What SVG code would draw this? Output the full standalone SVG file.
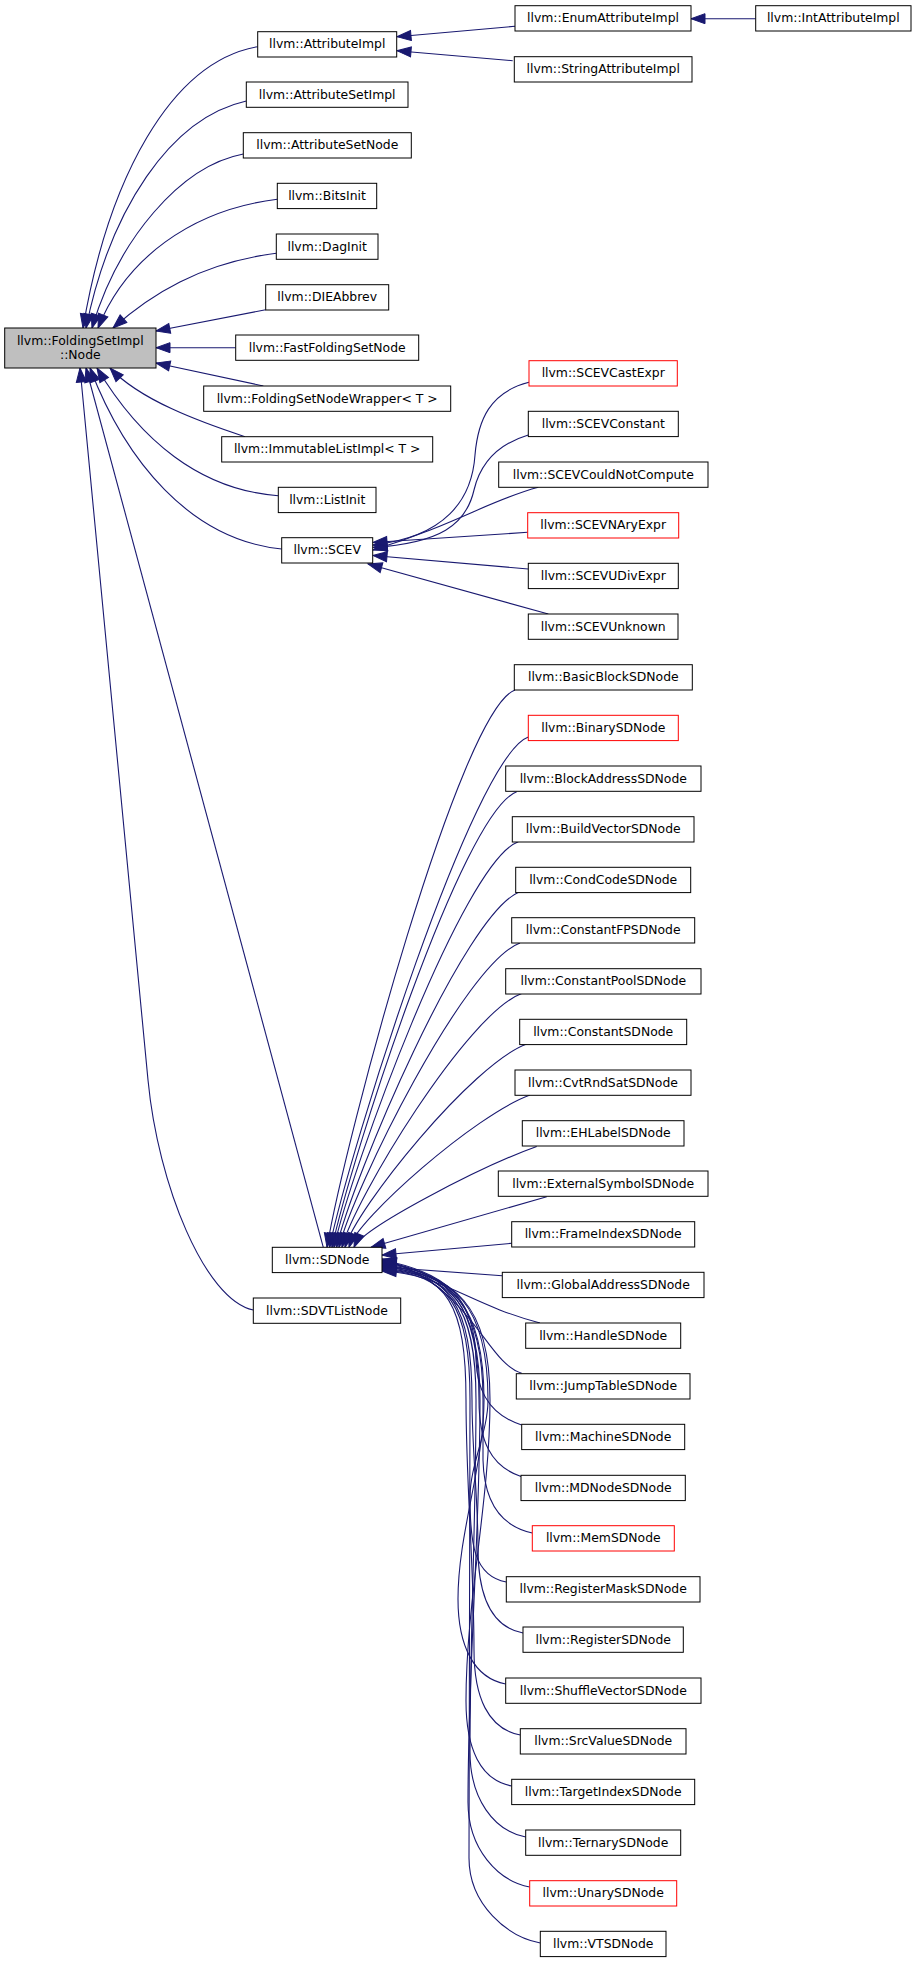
<svg xmlns="http://www.w3.org/2000/svg" width="916" height="1963" viewBox="0 0 916 1963">
<style>
.n rect{fill:#fff;stroke:#000;stroke-width:1}
.r rect{stroke:#f00}
.root rect{fill:#bfbfbf}
text{font-family:"DejaVu Sans","Liberation Sans",sans-serif;font-size:12.4px;fill:#000;text-anchor:middle}
#edges path{fill:none;stroke:#191970;stroke-width:1.1;marker-end:url(#ah)}
</style>
<defs>
<marker id="ah" markerUnits="userSpaceOnUse" markerWidth="14" markerHeight="10" refX="14" refY="5" orient="auto" overflow="visible">
<path d="M0,0 L14,5 L0,10 Z" fill="#191970" stroke="#191970" stroke-width="1"/>
</marker>
</defs>
<rect width="916" height="1963" fill="#fff"/>
<g id="edges">
<path d="M755.7,18.7 L691,18.7"/>
<path d="M515,26.3 L397,36.7"/>
<path d="M512.7,60.7 L397,50.7"/>
<path d="M257.7,46.7 C170,62 108,180 83,328"/>
<path d="M246.3,101 C170,118 110,210 86,328"/>
<path d="M243.3,154 C180,166 118,240 92,328"/>
<path d="M277.3,199.3 C190,210 125,260 98,328"/>
<path d="M276.3,253.3 C200,263 150,295 113,328"/>
<path d="M265.7,309.7 L156,331"/>
<path d="M235.7,347.7 L156,347.7"/>
<path d="M263.3,386 L156,363"/>
<path d="M245,436.7 C200,422 140,400 110,368"/>
<path d="M278.3,495.7 C200,490 140,440 97,368"/>
<path d="M281.7,549 C190,540 125,460 90,368"/>
<path d="M323.3,1247.3 L86,368"/>
<path d="M253.3,1310 C205,1300 158,1185 148,1080 L80,368"/>
<path d="M529,382.3 C490,392 478,420 475,455 C472,500 445,537 373,545"/>
<path d="M528.3,435 C495,445 480,465 474,490 C466,525 440,543 373,547.5"/>
<path d="M538.3,487.3 C490,500 455,525 373,550"/>
<path d="M527.7,532.3 L373,542.5"/>
<path d="M528.3,569 L373,555.5"/>
<path d="M548.3,614 L368,564"/>
<path d="M515,690 C460,710 345,1140 327,1247.3"/>
<path d="M528.3,737 C473,757 349.8,1150 329.5,1247.3"/>
<path d="M516.7,791.7 C462,812 350.7,1160.5 332,1247.3"/>
<path d="M518.3,841.7 C463,862 351,1170 334,1247.3"/>
<path d="M520,891.7 C465,912 352,1179.5 336.5,1247.3"/>
<path d="M520,943 C465,963 353,1189 339,1247.3"/>
<path d="M521.7,993.5 C467,1013.5 354.6,1199 342,1247.3"/>
<path d="M526.7,1044 C472,1064 356,1208.4 345,1247.3"/>
<path d="M530,1095 C475,1115 358.6,1218 349,1247.3"/>
<path d="M536.7,1146.5 C482,1166 362,1228 354,1247.3"/>
<path d="M546.7,1196.7 L371,1247.3"/>
<path d="M511.7,1243.3 L382,1255"/>
<path d="M502.3,1275.7 L382,1267"/>
<path d="M540,1323 C470,1305 440,1273 382,1271"/>
<path d="M521.7,1373.3 C485,1362 472,1285 382,1259"/>
<path d="M521.7,1425 C490,1415 477,1392 476,1360 C475,1300 450,1273 382,1260"/>
<path d="M521,1476.5 C490,1466 479,1440 479,1400 C479,1305 452,1274 382,1261"/>
<path d="M532.3,1533 C500,1526 484,1500 483,1460 L483,1400 C483,1305 452,1274 382,1262"/>
<path d="M506.3,1582 C474,1576 470,1544 470,1497 C470,1464.7 488,1432.3 488,1400 C488,1305 455,1274 382,1263"/>
<path d="M523,1633 C491,1627 478,1595 478,1548 C478,1498.7 472,1449.3 472,1400 C472,1305 450,1274 382,1264"/>
<path d="M505.7,1684 C474,1678 458,1646 458,1599 C458,1532.7 484,1466.3 484,1400 C484,1305 453,1274 382,1265"/>
<path d="M520.3,1735 C488,1729 474,1697 474,1650 C474,1566.7 466,1483.3 466,1400 C466,1305 448,1274 382,1266"/>
<path d="M511.7,1786 C480,1780 466,1748 466,1701 C466,1600.7 490,1500.3 490,1400 C490,1305 456,1274 382,1267"/>
<path d="M525.7,1837 C494,1831 470,1799 470,1752 C470,1634.7 476,1517.3 476,1400 C476,1305 451,1274 382,1268"/>
<path d="M529.7,1887 C498,1881 468,1849 468,1802 C468,1668 480,1534 480,1400 C480,1305 452,1274 382,1269"/>
<path d="M540.3,1943 C508,1937 469,1905 469,1858 C469,1705.3 470,1552.7 470,1400 C470,1305 449,1274 382,1270"/>
</g>
<g id="n_root" class="n root"><rect x="4.7" y="328" width="151.3" height="40"/><text x="80.3" y="345">llvm::FoldingSetImpl</text><text x="80.3" y="359">::Node</text></g>
<g id="n_attrimpl" class="n"><rect x="257.7" y="31.7" width="139" height="25.3"/><text x="327.2" y="48.4">llvm::AttributeImpl</text></g>
<g id="n_enumattr" class="n"><rect x="515" y="5.7" width="176" height="25.3"/><text x="603" y="22.4">llvm::EnumAttributeImpl</text></g>
<g id="n_intattr" class="n"><rect x="755.7" y="5.7" width="155.3" height="25.3"/><text x="833.3" y="22.4">llvm::IntAttributeImpl</text></g>
<g id="n_strattr" class="n"><rect x="514.3" y="56.7" width="177.7" height="25.3"/><text x="603.2" y="73.4">llvm::StringAttributeImpl</text></g>
<g id="n_attrsetimpl" class="n"><rect x="246.3" y="82" width="161.7" height="25.3"/><text x="327.2" y="98.7">llvm::AttributeSetImpl</text></g>
<g id="n_attrsetnode" class="n"><rect x="243.3" y="132.7" width="168" height="25.3"/><text x="327.3" y="149.4">llvm::AttributeSetNode</text></g>
<g id="n_bitsinit" class="n"><rect x="277.3" y="183.3" width="99.4" height="25.3"/><text x="327" y="200">llvm::BitsInit</text></g>
<g id="n_daginit" class="n"><rect x="276.3" y="234" width="101.7" height="25.3"/><text x="327.2" y="250.7">llvm::DagInit</text></g>
<g id="n_dieabbrev" class="n"><rect x="265.7" y="284.7" width="123" height="25.3"/><text x="327.2" y="301.4">llvm::DIEAbbrev</text></g>
<g id="n_fastfsn" class="n"><rect x="235.7" y="335" width="183" height="25.3"/><text x="327.2" y="351.7">llvm::FastFoldingSetNode</text></g>
<g id="n_fsnwrapper" class="n"><rect x="203.7" y="386" width="247" height="25.3"/><text x="327.2" y="402.7">llvm::FoldingSetNodeWrapper&lt; T &gt;</text></g>
<g id="n_immlist" class="n"><rect x="221.7" y="436.7" width="211" height="25.3"/><text x="327.2" y="453.4">llvm::ImmutableListImpl&lt; T &gt;</text></g>
<g id="n_listinit" class="n"><rect x="278.3" y="487.3" width="97.7" height="25.3"/><text x="327.2" y="504">llvm::ListInit</text></g>
<g id="n_scev" class="n"><rect x="281.7" y="537.7" width="91" height="25.3"/><text x="327.2" y="554.4">llvm::SCEV</text></g>
<g id="n_sdnode" class="n"><rect x="272.3" y="1247.3" width="109.7" height="25.3"/><text x="327.2" y="1264">llvm::SDNode</text></g>
<g id="n_sdvtlist" class="n"><rect x="253.3" y="1298" width="147.4" height="25.3"/><text x="327" y="1314.7">llvm::SDVTListNode</text></g>
<g id="n_scevcast" class="n r"><rect x="529" y="360.7" width="148.3" height="25.3"/><text x="603.2" y="377.4">llvm::SCEVCastExpr</text></g>
<g id="n_scevconst" class="n"><rect x="528.3" y="411.3" width="150" height="25.3"/><text x="603.3" y="428">llvm::SCEVConstant</text></g>
<g id="n_scevcnc" class="n"><rect x="498.7" y="462" width="209.3" height="25.3"/><text x="603.3" y="478.7">llvm::SCEVCouldNotCompute</text></g>
<g id="n_scevnary" class="n r"><rect x="527.7" y="512.7" width="151" height="25.3"/><text x="603.2" y="529.4">llvm::SCEVNAryExpr</text></g>
<g id="n_scevudiv" class="n"><rect x="528.3" y="563.3" width="150" height="25.3"/><text x="603.3" y="580">llvm::SCEVUDivExpr</text></g>
<g id="n_scevunk" class="n"><rect x="528.3" y="614" width="149.7" height="25.3"/><text x="603.2" y="630.7">llvm::SCEVUnknown</text></g>
<g id="n_basicblock" class="n"><rect x="514.3" y="664.7" width="178" height="25.3"/><text x="603.3" y="681.4">llvm::BasicBlockSDNode</text></g>
<g id="n_binary" class="n r"><rect x="528.3" y="715.3" width="150" height="25.3"/><text x="603.3" y="732">llvm::BinarySDNode</text></g>
<g id="n_blockaddr" class="n"><rect x="505.7" y="766" width="195.3" height="25.3"/><text x="603.3" y="782.7">llvm::BlockAddressSDNode</text></g>
<g id="n_buildvec" class="n"><rect x="512.3" y="816.7" width="181.7" height="25.3"/><text x="603.2" y="833.4">llvm::BuildVectorSDNode</text></g>
<g id="n_condcode" class="n"><rect x="515.7" y="867.3" width="175" height="25.3"/><text x="603.2" y="884">llvm::CondCodeSDNode</text></g>
<g id="n_constfp" class="n"><rect x="511.7" y="917.7" width="183" height="25.3"/><text x="603.2" y="934.4">llvm::ConstantFPSDNode</text></g>
<g id="n_constpool" class="n"><rect x="505.7" y="968.7" width="195.3" height="25.3"/><text x="603.3" y="985.4">llvm::ConstantPoolSDNode</text></g>
<g id="n_const" class="n"><rect x="519.7" y="1019.3" width="167" height="25.3"/><text x="603.2" y="1036">llvm::ConstantSDNode</text></g>
<g id="n_cvtrnd" class="n"><rect x="515" y="1070" width="176" height="25.3"/><text x="603" y="1086.7">llvm::CvtRndSatSDNode</text></g>
<g id="n_ehlabel" class="n"><rect x="522.3" y="1120.7" width="161.7" height="25.3"/><text x="603.2" y="1137.4">llvm::EHLabelSDNode</text></g>
<g id="n_extsym" class="n"><rect x="498.3" y="1171" width="209.7" height="25.3"/><text x="603.2" y="1187.7">llvm::ExternalSymbolSDNode</text></g>
<g id="n_frameidx" class="n"><rect x="511.7" y="1221.7" width="183" height="25.3"/><text x="603.2" y="1238.4">llvm::FrameIndexSDNode</text></g>
<g id="n_globaddr" class="n"><rect x="502.3" y="1272.3" width="201.7" height="25.3"/><text x="603.2" y="1289">llvm::GlobalAddressSDNode</text></g>
<g id="n_handle" class="n"><rect x="525.7" y="1323" width="155" height="25.3"/><text x="603.2" y="1339.7">llvm::HandleSDNode</text></g>
<g id="n_jumptable" class="n"><rect x="516.3" y="1373.7" width="173.7" height="25.3"/><text x="603.2" y="1390.4">llvm::JumpTableSDNode</text></g>
<g id="n_machine" class="n"><rect x="521.7" y="1424.3" width="163" height="25.3"/><text x="603.2" y="1441">llvm::MachineSDNode</text></g>
<g id="n_mdnode" class="n"><rect x="521" y="1475.3" width="164.3" height="25.3"/><text x="603.2" y="1492">llvm::MDNodeSDNode</text></g>
<g id="n_mem" class="n r"><rect x="532.3" y="1525.7" width="142" height="25.3"/><text x="603.3" y="1542.4">llvm::MemSDNode</text></g>
<g id="n_regmask" class="n"><rect x="506.3" y="1576.7" width="193.7" height="25.3"/><text x="603.2" y="1593.4">llvm::RegisterMaskSDNode</text></g>
<g id="n_register" class="n"><rect x="523" y="1627" width="160.3" height="25.3"/><text x="603.2" y="1643.7">llvm::RegisterSDNode</text></g>
<g id="n_shufvec" class="n"><rect x="505.7" y="1678" width="195.3" height="25.3"/><text x="603.3" y="1694.7">llvm::ShuffleVectorSDNode</text></g>
<g id="n_srcvalue" class="n"><rect x="520.3" y="1728.7" width="165.7" height="25.3"/><text x="603.2" y="1745.4">llvm::SrcValueSDNode</text></g>
<g id="n_targetidx" class="n"><rect x="511.7" y="1779.3" width="183" height="25.3"/><text x="603.2" y="1796">llvm::TargetIndexSDNode</text></g>
<g id="n_ternary" class="n"><rect x="525.7" y="1830" width="155" height="25.3"/><text x="603.2" y="1846.7">llvm::TernarySDNode</text></g>
<g id="n_unary" class="n r"><rect x="529.7" y="1880.7" width="147" height="25.3"/><text x="603.2" y="1897.4">llvm::UnarySDNode</text></g>
<g id="n_vtsd" class="n"><rect x="540.3" y="1931.3" width="125.7" height="25.3"/><text x="603.2" y="1948">llvm::VTSDNode</text></g>
</svg>
